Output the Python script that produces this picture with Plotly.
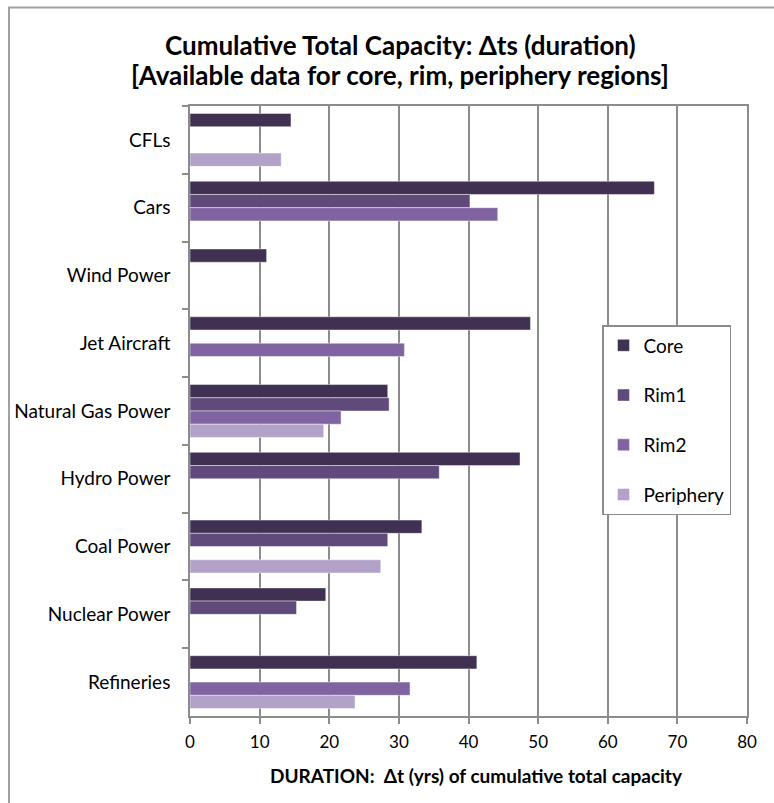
import plotly.graph_objects as go

# Technologies, listed top to bottom
categories = ["CFLs", "Cars", "Wind Power", "Jet Aircraft", "Natural Gas Power",
              "Hydro Power", "Coal Power", "Nuclear Power", "Refineries"]

# Duration (years) of cumulative total capacity per region; None = no data
core = [14.5, 66.7, 11.0, 48.9, 28.4, 47.4, 33.3, 19.5, 41.2]
rim1 = [None, 40.2, None, None, 28.6, 35.8, 28.4, 15.3, None]
rim2 = [None, 44.2, None, 30.8, 21.7, None, None, None, 31.6]
periphery = [13.1, None, None, None, 19.2, None, 27.4, None, 23.7]

x_ticks = [0, 10, 20, 30, 40, 50, 60, 70, 80]

series = [
    ("Core", core, "#403152"),
    ("Rim1", rim1, "#604a7b"),
    ("Rim2", rim2, "#8064a2"),
    ("Periphery", periphery, "#b3a2c7"),
]

FONT = "Lato, 'Open Sans', sans-serif"
GRID = "#8c8c8c"

fig = go.Figure()
for name, vals, color in series:
    fig.add_trace(go.Bar(
        y=categories, x=vals, name=name, orientation="h",
        legendgroup=name,
        marker=dict(color=color, line=dict(color="rgba(255,255,255,0.55)", width=0.8)),
    ))

W, H = 774, 803
L, R, T, B = 190, 27, 106, 87
pw, ph = W - L - R, H - T - B

def px_x(x):
    return (x - L) / pw

def px_y(y):
    return (H - B - y) / ph

fig.update_layout(
    width=W, height=H,
    margin=dict(l=L, r=R, t=T, b=B),
    paper_bgcolor="white", plot_bgcolor="white",
    barmode="group", bargap=0.22, bargroupgap=0,
    font=dict(family=FONT, color="#000000", size=16),
    showlegend=True,
    legend=dict(
        x=px_x(602), y=px_y(325), xanchor="left", yanchor="top",
        bgcolor="white", bordercolor=GRID, borderwidth=1.5,
        font=dict(size=19, family=FONT),
        traceorder="grouped", tracegroupgap=22,
        entrywidth=110,
    ),
    xaxis=dict(
        range=[0, 80], tickvals=x_ticks, ticktext=[str(v) for v in x_ticks],
        showgrid=True, gridcolor=GRID, gridwidth=1.6,
        showline=True, linecolor=GRID, linewidth=1.6, mirror=True,
        ticks="outside", ticklen=6, tickcolor=GRID, tickwidth=1.6,
        ticklabelstandoff=4,
        tickfont=dict(size=17, family=FONT), zeroline=False,
    ),
    yaxis=dict(
        autorange="reversed", type="category",
        showgrid=False,
        showline=True, linecolor=GRID, linewidth=1.6, mirror=True,
        ticks="outside", ticklen=6, tickcolor=GRID, tickwidth=1.6,
        tickson="boundaries", ticklabelstandoff=14,
        tickfont=dict(size=19, family=FONT),
    ),
    shapes=[dict(
        type="rect", xref="paper", yref="paper",
        x0=px_x(9), x1=px_x(790), y0=px_y(820), y1=px_y(7.5),
        line=dict(color="#a0a0a0", width=2), fillcolor="rgba(0,0,0,0)", layer="below",
    )],
    annotations=[
        dict(text="<b>Cumulative Total Capacity: \u0394ts (duration)</b>",
             xref="paper", yref="paper", x=px_x(400), y=px_y(45),
             xanchor="center", yanchor="middle", showarrow=False,
             font=dict(size=26, family=FONT)),
        dict(text="<b>[Available data for core, rim, periphery regions]</b>",
             xref="paper", yref="paper", x=px_x(400), y=px_y(75),
             xanchor="center", yanchor="middle", showarrow=False,
             font=dict(size=26, family=FONT)),
        dict(text="<b>DURATION:  \u0394t (yrs) of cumulative total capacity</b>",
             xref="paper", yref="paper", x=px_x(476), y=px_y(775),
             xanchor="center", yanchor="middle", showarrow=False,
             font=dict(size=19, family=FONT)),
    ],
)

fig.write_html("out.html")
